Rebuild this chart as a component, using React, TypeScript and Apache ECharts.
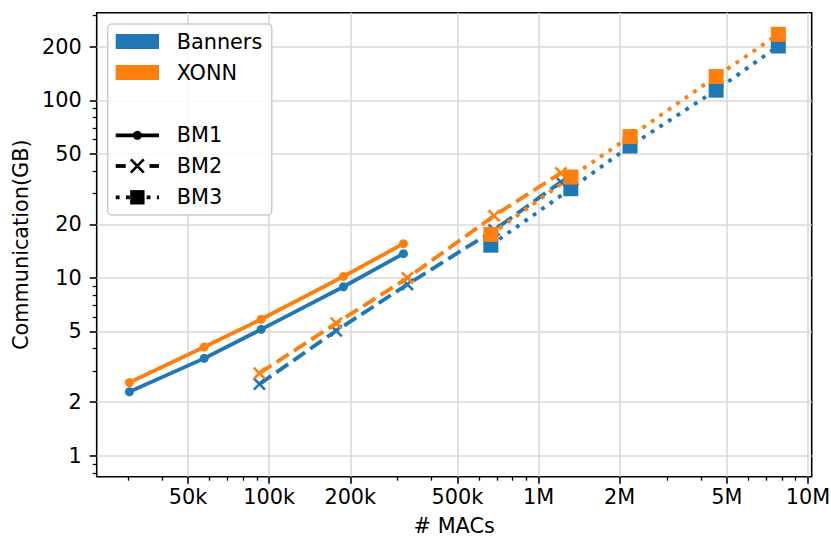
import React, { useEffect, useRef } from "react";
import * as echarts from "echarts";

// ---- data ----
const bm1Macs = [30300, 57400, 93400, 188700, 315000];
const bm1Banners = [2.29, 3.53, 5.14, 8.93, 13.7];
const bm1Xonn = [2.58, 4.09, 5.86, 10.2, 15.6];

const bm2Macs = [92000, 177300, 326000, 684000, 1210000];
const bm2Banners = [2.53, 5.05, 9.2, 18.6, 34.7];
const bm2Xonn = [2.91, 5.56, 10.0, 22.4, 39.0];

const bm3Macs = [665000, 1317000, 2185000, 4560000, 7760000];
const bm3Banners = [15.3, 31.8, 55.3, 114, 202];
const bm3Xonn = [17.6, 37.0, 62.5, 136, 235];

const xMajor = [50000, 100000, 200000, 500000, 1000000, 2000000, 5000000, 10000000];
const xMajorLabels = ["50k", "100k", "200k", "500k", "1M", "2M", "5M", "10M"];
const xMinor = [30000, 40000, 60000, 70000, 80000, 90000, 300000, 400000, 600000, 700000, 800000, 900000, 3000000, 4000000, 6000000, 7000000, 8000000, 9000000];
const yMajor = [1, 2, 5, 10, 20, 50, 100, 200];
const yMajorLabels = ["1", "2", "5", "10", "20", "50", "100", "200"];
const yMinor = [0.8, 0.9, 3, 4, 6, 7, 8, 9, 30, 40, 60, 70, 80, 90, 300];

const BLUE = "#1f77b4";
const ORANGE = "#ff7f0e";
const FONT = "DejaVu Sans";
const FS = 20.8;
const LW = 3.8;
const X_PATH = "path://M0,1.4L1.4,0L10,8.6L8.6,10Z M8.6,0L10,1.4L1.4,10L0,8.6Z";

function nearestLabel(v: number, vals: number[], labels: string[]) {
  let best = -1;
  let bd = Infinity;
  vals.forEach((t, i) => {
    const d = Math.abs(Math.log10(v) - Math.log10(t));
    if (d < bd) {
      bd = d;
      best = i;
    }
  });
  return bd < 0.01 ? labels[best] : "";
}

function pairs(xs: number[], ys: number[]) {
  return xs.map((x, i) => [x, ys[i]]);
}

export default function App() {
  const ref = useRef<HTMLDivElement>(null);
  useEffect(() => {
    document.body.style.margin = "0";
    const chart = echarts.init(ref.current!, null, { renderer: "svg" });

    const lineSeries = (
      name: string,
      xs: number[],
      ys: number[],
      color: string,
      dash: any,
      symbol: string,
      size: number,
      z: number
    ) => ({
      name,
      type: "line",
      data: pairs(xs, ys),
      z,
      symbol,
      symbolSize: size,
      showSymbol: true,
      itemStyle: { color, opacity: 1 },
      lineStyle: { color, width: LW, type: dash },
      emphasis: { disabled: true },
      silent: true,
    });

    const xTickBase = {
      type: "log",
      logBase: 10,
      min: 22900,
      max: 10320000,
      gridIndex: 0,
      position: "bottom",
    };
    const yTickBase = {
      type: "log",
      logBase: 10,
      min: 0.762,
      max: 311,
      gridIndex: 0,
      position: "left",
    };

    const legendX = 115.7;
    const legendW = 43.3;
    const textX = 176.7;
    const legendText = (text: string, y: number) => ({
      type: "text",
      z: 101,
      x: textX,
      y,
      style: { text, fontFamily: FONT, fontSize: FS, fill: "#000", verticalAlign: "middle", align: "left" },
    });

    const option: any = {
      animation: false,
      grid: {
        left: 96.7,
        right: 19.3,
        top: 12.7,
        bottom: 62.3,
        show: true,
        borderColor: "#000",
        borderWidth: 1.6,
        backgroundColor: "transparent",
        containLabel: false,
        outerBoundsMode: "none",
      },
      xAxis: [
        {
          ...xTickBase,
          name: "# MACs",
          nameLocation: "middle",
          nameGap: 39,
          nameTextStyle: { fontFamily: FONT, fontSize: FS, color: "#000" },
          axisLine: { show: false },
          axisTick: {
            show: true,
            length: 7,
            customValues: xMajor,
            lineStyle: { color: "#000", width: 1.6 },
          },
          axisLabel: {
            show: true,
            customValues: xMajor,
            margin: 9.5,
            fontFamily: FONT,
            fontSize: FS,
            color: "#000",
            formatter: (v: number) => nearestLabel(v, xMajor, xMajorLabels),
          },
          splitLine: { show: true, lineStyle: { color: "#d9d9d9", width: 1.6 } },
          minorTick: { show: false },
          minorSplitLine: { show: false },
        },
        {
          ...xTickBase,
          axisLine: { show: false },
          axisTick: {
            show: true,
            length: 4,
            customValues: xMinor,
            lineStyle: { color: "#000", width: 1.3 },
          },
          axisLabel: { show: false },
          splitLine: { show: false },
        },
      ],
      yAxis: [
        {
          ...yTickBase,
          name: "Communication(GB)",
          nameLocation: "middle",
          nameGap: 63,
          nameTextStyle: { fontFamily: FONT, fontSize: FS, color: "#000" },
          axisLine: { show: false },
          axisTick: {
            show: true,
            length: 7,
            customValues: yMajor,
            lineStyle: { color: "#000", width: 1.6 },
          },
          axisLabel: {
            show: true,
            customValues: yMajor,
            margin: 15,
            fontFamily: FONT,
            fontSize: FS,
            color: "#000",
            formatter: (v: number) => nearestLabel(v, yMajor, yMajorLabels),
          },
          splitLine: { show: true, lineStyle: { color: "#d9d9d9", width: 1.6 } },
        },
        {
          ...yTickBase,
          axisLine: { show: false },
          axisTick: {
            show: true,
            length: 4,
            customValues: yMinor,
            lineStyle: { color: "#000", width: 1.3 },
          },
          axisLabel: { show: false },
          splitLine: { show: false },
        },
      ],
      series: [
        lineSeries("Banners BM1", bm1Macs, bm1Banners, BLUE, "solid", "circle", 9, 10),
        lineSeries("XONN BM1", bm1Macs, bm1Xonn, ORANGE, "solid", "circle", 9, 11),
        lineSeries("Banners BM2", bm2Macs, bm2Banners, BLUE, [14.4, 6.2], X_PATH, 13, 12),
        lineSeries("XONN BM2", bm2Macs, bm2Xonn, ORANGE, [14.4, 6.2], X_PATH, 13, 13),
        lineSeries("Banners BM3", bm3Macs, bm3Banners, BLUE, [3.9, 6.4], "rect", 15, 14),
        lineSeries("XONN BM3", bm3Macs, bm3Xonn, ORANGE, [3.9, 6.4], "rect", 15, 15),
      ],
      graphic: [
        {
          type: "rect",
          z: 100,
          shape: { x: 107.7, y: 24, width: 164, height: 191, r: 4 },
          style: { fill: "rgba(255,255,255,0.85)", stroke: "#cccccc", lineWidth: 1.5 },
        },
        {
          type: "rect",
          z: 101,
          shape: { x: legendX, y: 34, width: legendW, height: 15 },
          style: { fill: BLUE },
        },
        legendText("Banners", 41.5),
        {
          type: "rect",
          z: 101,
          shape: { x: legendX, y: 65, width: legendW, height: 15 },
          style: { fill: ORANGE },
        },
        legendText("XONN", 72.5),
        // BM1
        {
          type: "line",
          z: 101,
          shape: { x1: legendX, y1: 135.3, x2: legendX + legendW, y2: 135.3 },
          style: { stroke: "#000", lineWidth: LW },
        },
        {
          type: "circle",
          z: 102,
          shape: { cx: legendX + legendW / 2, cy: 135.3, r: 4.5 },
          style: { fill: "#000" },
        },
        legendText("BM1", 135.3),
        // BM2
        {
          type: "line",
          z: 101,
          shape: { x1: legendX, y1: 166, x2: legendX + 10, y2: 166 },
          style: { stroke: "#000", lineWidth: LW },
        },
        {
          type: "line",
          z: 101,
          shape: { x1: legendX + legendW - 9.5, y1: 166, x2: legendX + legendW, y2: 166 },
          style: { stroke: "#000", lineWidth: LW },
        },
        {
          type: "line",
          z: 102,
          shape: { x1: 130.8, y1: 159.4, x2: 143.8, y2: 172.6 },
          style: { stroke: "#000", lineWidth: 2.6 },
        },
        {
          type: "line",
          z: 102,
          shape: { x1: 130.8, y1: 172.6, x2: 143.8, y2: 159.4 },
          style: { stroke: "#000", lineWidth: 2.6 },
        },
        legendText("BM2", 166),
        // BM3
        {
          type: "line",
          z: 101,
          shape: { x1: legendX, y1: 197.3, x2: legendX + legendW, y2: 197.3 },
          style: { stroke: "#000", lineWidth: LW, lineDash: [3.9, 6.4] },
        },
        {
          type: "rect",
          z: 102,
          shape: { x: legendX + legendW / 2 - 7.2, y: 197.3 - 7.2, width: 14.4, height: 14.4 },
          style: { fill: "#000" },
        },
        legendText("BM3", 197.3),
      ],
    };

    chart.setOption(option);
    return () => chart.dispose();
  }, []);

  return <div ref={ref} style={{ width: 831, height: 539 }} />;
}
